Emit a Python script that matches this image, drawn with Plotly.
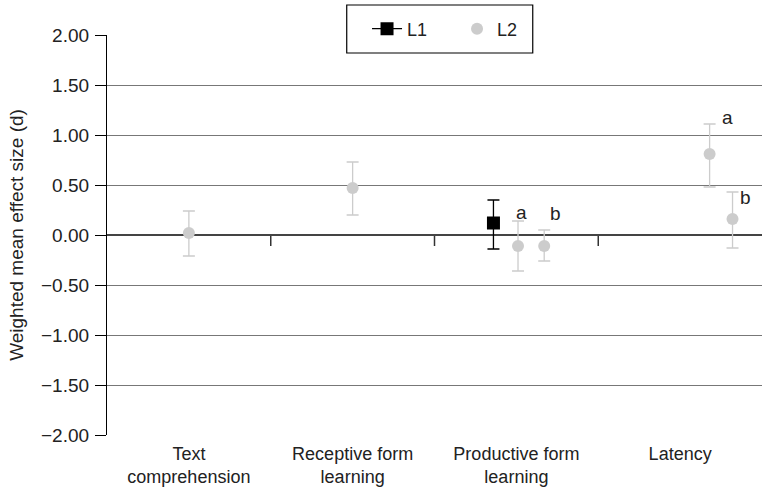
import plotly.graph_objects as go

categories = ["Text<br>comprehension", "Receptive form<br>learning", "Productive form<br>learning", "Latency"]

# L1 series
l1_cat = [2]
l1_offset = [-0.14]
l1_val = [0.12]
l1_hi = [0.35]
l1_lo = [-0.14]

# L2 series
l2_cat = [0, 1, 2, 2, 3, 3]
l2_offset = [0.0, 0.0, 0.01, 0.17, 0.18, 0.32]
l2_val = [0.02, 0.47, -0.11, -0.11, 0.81, 0.16]
l2_hi = [0.24, 0.73, 0.14, 0.05, 1.11, 0.43]
l2_lo = [-0.21, 0.20, -0.36, -0.26, 0.48, -0.13]

# letter labels
lab_text = ["a", "b", "a", "b"]
lab_x = [2.03, 2.24, 3.29, 3.4]
lab_y = [0.23, 0.22, 1.18, 0.38]

y_ticks = [2.0, 1.5, 1.0, 0.5, 0.0, -0.5, -1.0, -1.5, -2.0]
y_tick_text = ["2.00", "1.50", "1.00", "0.50", "0.00", "\u22120.50", "\u22121.00", "\u22121.50", "\u22122.00"]

FONT = "Liberation Sans, Arial, sans-serif"
FS = 19

l1_x = [c + o for c, o in zip(l1_cat, l1_offset)]
l2_x = [c + o for c, o in zip(l2_cat, l2_offset)]

fig = go.Figure()
fig.add_trace(go.Scatter(
    x=l1_x, y=l1_val, mode="lines+markers", name="L1",
    marker=dict(symbol="square", size=13, color="black"),
    line=dict(color="black", width=1.2),
    error_y=dict(type="data", symmetric=False,
                 array=[h - v for h, v in zip(l1_hi, l1_val)],
                 arrayminus=[v - l for l, v in zip(l1_lo, l1_val)],
                 color="black", thickness=1.3, width=6),
))
fig.add_trace(go.Scatter(
    x=l2_x, y=l2_val, mode="markers", name="L2",
    marker=dict(symbol="circle", size=12, color="#cccccc"),
    error_y=dict(type="data", symmetric=False,
                 array=[h - v for h, v in zip(l2_hi, l2_val)],
                 arrayminus=[v - l for l, v in zip(l2_lo, l2_val)],
                 color="#cccccc", thickness=1.3, width=6),
))

for t, x, y in zip(lab_text, lab_x, lab_y):
    fig.add_annotation(x=x, y=y, text=t, showarrow=False, xref="x", yref="y",
                       font=dict(size=FS, color="#222", family=FONT))

# category boundary ticks on the zero line
for b in [0.5, 1.5, 2.5]:
    fig.add_shape(type="line", xref="x", yref="y", x0=b, x1=b, y0=0, y1=-0.11,
                  line=dict(color="#333", width=1.5), layer="below")

# legend frame
fig.add_shape(type="rect", xref="paper", yref="paper", x0=0.366, x1=0.650, y0=0.955, y1=1.075,
              fillcolor="white", line=dict(color="black", width=1.2), layer="above")

fig.update_layout(
    width=762, height=491,
    margin=dict(l=107, r=0, t=35, b=56, autoexpand=False),
    paper_bgcolor="white", plot_bgcolor="white",
    font=dict(family=FONT, size=FS, color="#222"),
    legend=dict(orientation="h", x=0.397, xanchor="left", y=1.015, yanchor="middle",
                bgcolor="rgba(0,0,0,0)", borderwidth=0,
                font=dict(size=18), entrywidth=45),
    showlegend=True,
)
fig.update_xaxes(range=[-0.5, 3.5], tickmode="array", tickvals=[0, 1, 2, 3],
                 ticktext=categories, showgrid=False, zeroline=False,
                 showline=False, ticks="", tickfont=dict(size=18), ticklabelstandoff=6)
fig.update_yaxes(range=[-2.0, 2.0], tickmode="array", tickvals=y_ticks, ticktext=y_tick_text,
                 showgrid=True, gridcolor="#777777", gridwidth=1.3,
                 zeroline=True, zerolinecolor="#444444", zerolinewidth=1.5,
                 showline=True, linecolor="black", linewidth=1.3,
                 ticks="outside", ticklen=11, tickcolor="black", tickwidth=1.2,
                 ticklabelstandoff=2,
                 title=dict(text="Weighted mean effect size (d)", font=dict(size=FS), standoff=12),
                 tickfont=dict(size=FS))

fig.write_html("out.html", config={"displayModeBar": False},
               post_script="document.body.style.margin='0px';")
